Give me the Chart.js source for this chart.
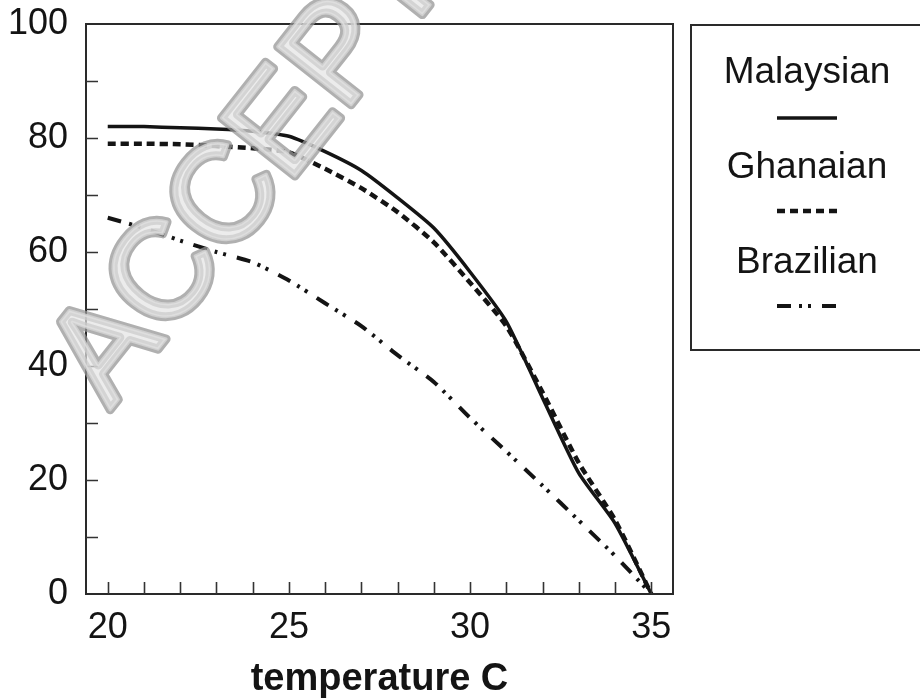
<!DOCTYPE html>
<html><head><meta charset="utf-8">
<script src="https://cdn.jsdelivr.net/npm/chart.js@4.4.1/dist/chart.umd.min.js"></script>
<style>html,body{margin:0;padding:0;background:#fff;}</style>
</head><body>
<canvas id="c" width="920" height="700"></canvas>
<script>
const temperatures = [20,21,22,23,24,25,26,27,28,29,30,31,32,33,34,35];
const malaysian = [82,82,81.8,81.6,81.2,80.3,77.6,74.3,69.5,64.2,56.5,47.8,34.4,21.2,12.4,0];
const ghanaian  = [79,79,78.9,78.6,78.2,77.5,74.6,71.2,67,61.7,54.6,47,35.4,23,13,0];
const brazilian = [66,64.2,62,60,58.2,55,51,47,41.9,37.2,30.9,25,19,12.9,6.7,0];
const seriesNames = ['Malaysian','Ghanaian','Brazilian'];
const xTickLabels = [20,25,30,35];
const yTickLabels = [0,20,40,60,80,100];
const xAxisTitle = 'temperature C';
const watermarkText = 'ACCEPTED';

const FONT = '"Liberation Sans", Arial, sans-serif';
const INK = '#141414';

function pts(arr){ return arr.map((v,i)=>({x:temperatures[i], y:v})); }

const framePlugin = {
  id:'frame',
  afterDraw(chart){
    const ctx = chart.ctx, a = chart.chartArea, xs = chart.scales.x, ys = chart.scales.y;
    ctx.save();
    // frame
    ctx.strokeStyle = '#2a2a2a'; ctx.lineWidth = 2;
    ctx.strokeRect(a.left, a.top, a.right-a.left, a.bottom-a.top);
    // inward ticks
    ctx.lineWidth = 1.6; ctx.strokeStyle = '#333';
    ctx.beginPath();
    for(let v=xTickLabels[0]; v<=xTickLabels[xTickLabels.length-1]; v+=1){
      const px = Math.round(xs.getPixelForValue(v))+0.5;
      ctx.moveTo(px, a.bottom); ctx.lineTo(px, a.bottom-12);
    }
    for(let v=10; v<yTickLabels[yTickLabels.length-1]; v+=10){
      const py = Math.round(ys.getPixelForValue(v))+0.5;
      ctx.moveTo(a.left, py); ctx.lineTo(a.left+12, py);
    }
    ctx.stroke();
    // legend
    ctx.strokeStyle = '#2a2a2a'; ctx.lineWidth = 2;
    ctx.strokeRect(691, 25, 250, 325);
    const cx = 807;
    const textY = [73, 168, 263];
    const lineY = [118, 211, 306];
    ctx.fillStyle = INK; ctx.textAlign='center'; ctx.textBaseline='middle';
    ctx.font = '37px ' + FONT;
    chart.data.datasets.forEach((ds,i)=>{
      ctx.fillText(ds.label, cx, textY[i]);
      ctx.save();
      ctx.strokeStyle = ds.borderColor; ctx.lineWidth = ds.borderWidth;
      ctx.setLineDash(ds.borderDash || []);
      ctx.beginPath(); ctx.moveTo(777, lineY[i]); ctx.lineTo(837, lineY[i]); ctx.stroke();
      ctx.restore();
    });
    // watermark
    ctx.save();
    ctx.translate(110, 410);
    ctx.rotate(-51.7*Math.PI/180);
    ctx.font = '136px ' + FONT;
    ctx.textAlign='left'; ctx.textBaseline='alphabetic';
    ctx.lineJoin='round';
    ctx.strokeStyle='rgba(150,150,150,0.75)'; ctx.lineWidth=9;
    ctx.strokeText(watermarkText, 0, 0);
    ctx.strokeStyle='rgba(215,215,215,0.8)'; ctx.lineWidth=3;
    ctx.strokeText(watermarkText, 0, 0);
    ctx.fillStyle='rgba(228,228,228,0.7)';
    ctx.fillText(watermarkText, 0, 0);
    ctx.restore();
    ctx.restore();
  }
};

new Chart(document.getElementById('c'), {
  type:'line',
  data:{
    datasets:[
      {label:seriesNames[0], data:pts(malaysian), borderColor:INK, borderWidth:3.5, borderDash:[], pointRadius:0, tension:0.2, order:1},
      {label:seriesNames[1], data:pts(ghanaian), borderColor:INK, borderWidth:4.5, borderDash:[8,5], pointRadius:0, tension:0.2, order:2},
      {label:seriesNames[2], data:pts(brazilian), borderColor:INK, borderWidth:4, borderDash:[14,8,3,6,3,11], pointRadius:0, tension:0.2, order:3}
    ]
  },
  options:{
    responsive:false, animation:false, devicePixelRatio:1,
    layout:{padding:{left:0,right:247,top:24,bottom:0}},
    plugins:{legend:{display:false}, tooltip:{enabled:false}},
    scales:{
      x:{type:'linear', min:19.4, max:35.6,
        afterBuildTicks:s=>{ s.ticks = xTickLabels.map(v=>({value:v})); },
        afterFit:s=>{ s.height = 106; s.paddingLeft = 0; s.paddingRight = 0; },
        grid:{display:false, drawTicks:false}, border:{display:false},
        ticks:{font:{family:FONT,size:36}, color:INK, padding:12, maxRotation:0, autoSkip:false},
        title:{display:true, text:xAxisTitle, color:INK, font:{family:FONT,size:38,weight:'bold',lineHeight:1}, padding:{top:0,bottom:1}}
      },
      y:{type:'linear', min:0, max:100,
        afterBuildTicks:s=>{ s.ticks = yTickLabels.map(v=>({value:v})); },
        afterFit:s=>{ s.width = 86; s.paddingTop = 0; s.paddingBottom = 0; },
        grid:{display:false, drawTicks:false}, border:{display:false},
        ticks:{font:{family:FONT,size:36}, color:INK, padding:18}
      }
    }
  },
  plugins:[framePlugin]
});
</script>
</body></html>
